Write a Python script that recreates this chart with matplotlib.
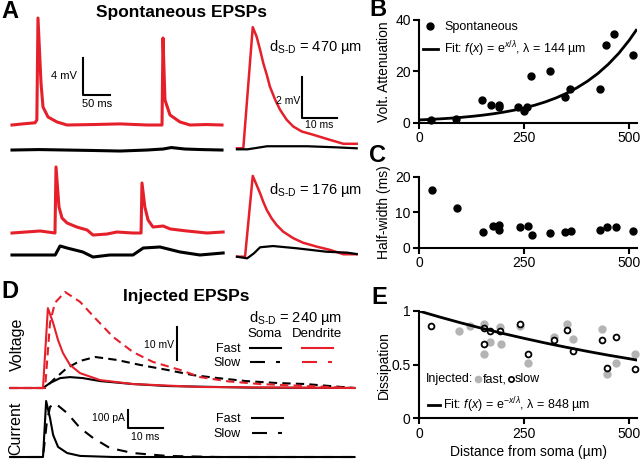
import matplotlib
matplotlib.use('Agg')
import matplotlib.pyplot as plt
from matplotlib.lines import Line2D

plt.rcParams['font.family'] = ['Liberation Sans', 'DejaVu Sans']
plt.rcParams['mathtext.fontset'] = 'custom'
plt.rcParams['mathtext.rm'] = 'Liberation Sans'
plt.rcParams['mathtext.it'] = 'Liberation Sans:italic'

RED = '#e5202a'
GREY = '#b4b4b4'

# --- A : spontaneous EPSPs, long traces (ms, mV from baseline) ---
a470_red_t = [0, 20, 42.6, 46, 48.1, 53.7, 57.4, 66.7, 83.3, 101.9, 150, 200, 250, 277.8,
              279.6, 283.3, 292.6, 311, 329.6, 360, 388.9]
a470_red_v = [0, 0.12, 0.24, 0.54, 11.63, 4.57, 1.96, 0.87, 0.33, 0, 0.05, 0.12, 0, 0,
              9.46, 2.72, 1.09, 0.33, 0, 0.05, 0]
a470_blk_t = [0, 50, 100, 150, 200, 250, 280, 295, 320, 350, 388.9]
a470_blk_v = [0, 0.05, 0, -0.05, -0.11, 0, 0.11, 0.27, 0.11, 0.05, 0]

a176_red_t = [0, 52, 79.6, 81.5, 87, 92.6, 101.9, 120, 139, 150, 176, 194, 224, 239,
              240.7, 246, 252, 261, 280, 293, 324, 361, 391]
a176_red_v = [-0.11, 0.11, -0.11, 7.07, 2.72, 1.52, 0.98, 0.54, 0.22, -0.33, -0.22, 0,
              -0.11, -0.11, 5.33, 2.72, 1.30, 0.54, 0.65, 0.33, 0.11, -0.11, 0]
a176_blk_t = [0, 80, 89, 102, 131, 150, 181, 224, 243, 274, 311, 348, 391]
a176_blk_v = [0, 0, 0.98, 0.76, 0.33, -0.22, 0, 0, 0.76, 0.87, 0.33, 0, 0.22]

# --- A : averaged EPSPs (insets) ---
i470_red_t = [0, 1.8, 4.5, 5.6, 6.6, 7.5, 8.5, 9.4, 10.9, 12.3, 14.2, 16.1, 18.5, 21.8,
              26.6, 30.4, 34.2]
i470_red_v = [0, 0, 5.91, 5.45, 4.80, 4.16, 3.59, 3.01, 2.37, 1.88, 1.39, 1.06, 0.82,
              0.66, 0.41, 0.22, 0.22]
i470_blk_t = [0, 3, 8.6, 20, 28, 34.2]
i470_blk_v = [-0.05, -0.05, 0.1, 0.1, 0.05, 0]

i176_red_t = [0, 2.3, 4.5, 5.6, 6.6, 7.5, 8.5, 9.9, 11.3, 13.2, 16.1, 18.9, 22.8, 26.6,
              30.4, 34.2]
i176_red_v = [0, 0, 3.94, 3.50, 3.09, 2.68, 2.28, 1.87, 1.55, 1.22, 0.90, 0.68, 0.49,
              0.33, 0.12, 0.12]
i176_blk_t = [0, 2.9, 4.8, 6.6, 10.3, 17.1, 25.7, 31.4, 34.2]
i176_blk_v = [0, -0.08, 0.16, 0.46, 0.52, 0.41, 0.24, 0.20, 0.13]

# --- D : injected EPSPs (ms from onset, mV / pA) ---
dend_fast_t = [-9.4, 0, 1.4, 2.9, 4.3, 5.7, 7.7, 10.6, 16.3, 25.7, 44.9, 89]
dend_fast_v = [0, 0, 24.2, 19.7, 14.5, 10.6, 7.0, 4.5, 2.4, 1.2, 0.3, 0]
dend_slow_t = [-9.4, 0.6, 2.0, 3.4, 6.3, 10.6, 15.4, 20, 25.7, 31.4, 39.1, 44.9, 53, 62,
               75, 89]
dend_slow_v = [0, 0, 19.7, 25.8, 29.1, 26.1, 20.6, 15.5, 10.9, 7.9, 5.5, 3.3, 2.0, 1.2,
               0.6, 0]
soma_slow_t = [-9.4, 0.6, 2.9, 6.9, 10.6, 14.9, 21.1, 27.7, 35.4, 42.9, 50, 58, 67, 75, 89]
soma_slow_v = [0, 0, 2.4, 6.1, 8.2, 9.4, 8.5, 7.0, 5.5, 3.9, 3.0, 2.1, 1.5, 1.2, 0]
soma_fast_t = [-9.4, 0, 2.0, 4.9, 7.7, 11.4, 16.3, 25.7, 35.4, 60, 89]
soma_fast_v = [0, 0, 1.5, 3.0, 3.3, 3.0, 2.1, 1.2, 0.6, 0.1, 0]

cur_fast_t = [-9.4, 0, 0.9, 2.0, 2.9, 4.3, 6.9, 10.6, 20, 89]
cur_fast_i = [0, 0, 311, 217, 122, 56, 22, 6, 0, 0]
cur_slow_t = [-9.4, 0, 1.1, 2.0, 3.4, 6.9, 10.6, 14.3, 19.1, 25.7, 35.4, 50, 89]
cur_slow_i = [0, 0, 194, 278, 300, 244, 161, 106, 50, 22, 6, 0, 0]

# --- B, C : spontaneous, per cell ---
sp_dist = [29, 88, 150, 171, 189, 191, 236, 249, 256, 266, 311, 346, 359, 429, 444, 464, 508]
sp_atten = [1.0, 1.3, 8.8, 6.9, 6.8, 6.2, 6.2, 4.3, 6.2, 18.3, 20.2, 10.1, 13.1, 13.1,
            30.4, 34.6, 26.5]
hw_dist = [32, 90, 153, 176, 189, 191, 239, 259, 268, 311, 346, 360, 430, 447, 467, 508]
hw_ms = [16.3, 11.3, 4.4, 6.2, 6.5, 5.1, 5.9, 6.1, 3.6, 4.1, 4.4, 4.7, 5.0, 5.9, 5.9, 4.7]
fitB_x = [0, 25, 50, 75, 100, 125, 150, 175, 200, 225, 250, 275, 300, 325, 350, 375, 400,
          425, 450, 475, 500, 516]
fitB_y = [1.00, 1.19, 1.42, 1.68, 2.00, 2.38, 2.83, 3.37, 4.01, 4.77, 5.68, 6.75, 8.03,
          9.55, 11.37, 13.52, 16.08, 19.13, 22.76, 27.07, 32.21, 35.99]

# --- E : dissipation ---
fast_dist = [94, 122, 155, 155, 169, 193, 196, 241, 260, 321, 351, 366, 434, 447, 469, 514]
fast_diss = [0.81, 0.86, 0.88, 0.60, 0.71, 0.85, 0.69, 0.86, 0.52, 0.76, 0.88, 0.74,
             0.83, 0.41, 0.52, 0.60]
slow_dist = [29, 155, 155, 169, 193, 241, 260, 321, 351, 366, 434, 447, 469, 514]
slow_diss = [0.86, 0.84, 0.69, 0.81, 0.81, 0.88, 0.60, 0.73, 0.82, 0.63, 0.73, 0.47,
             0.76, 0.46]
fitE_x = [0, 50, 100, 150, 200, 250, 300, 350, 400, 450, 500, 516]
fitE_y = [1.0, 0.943, 0.889, 0.838, 0.790, 0.745, 0.702, 0.662, 0.624, 0.588, 0.555, 0.544]

W, H = 640, 459
fig = plt.figure(figsize=(W / 100, H / 100), dpi=100)
fig.patch.set_facecolor('white')


def px_axes(x0, y0, x1, y1):
    return fig.add_axes([x0 / W, 1 - y1 / H, (x1 - x0) / W, (y1 - y0) / H])


def trace_axes(box, origin, sx, sy):
    # box in pixels, origin = pixel of (t=0, v=0), sx/sy = px per unit
    x0, y0, x1, y1 = box
    xo, yo = origin
    ax = px_axes(x0, y0, x1, y1)
    ax.set_xlim((x0 - xo) / sx, (x1 - xo) / sx)
    ax.set_ylim((yo - y1) / sy, (yo - y0) / sy)
    ax.axis('off')
    return ax


def ftext(x, y, s, **kw):
    kw.setdefault('va', 'center')
    fig.text(x / W, 1 - y / H, s, **kw)


def fline(x0, x1, y, **kw):
    fig.add_artist(Line2D([x0 / W, x1 / W], [1 - y / H, 1 - y / H], **kw))


# ---------------- A ----------------
ftext(1, 11, 'A', fontsize=17, fontweight='bold', ha='left')
ftext(182, 13, 'Spontaneous EPSPs', fontsize=12.5, fontweight='bold', ha='center')

ax = trace_axes((5, 10, 230, 162), (12, 125), 0.54, 9.2)
ax.plot(a470_red_t, a470_red_v, color=RED, lw=2.2)
ax.plot(a470_blk_t, [v - 2.72 for v in a470_blk_v], color='black', lw=2.2)
ax.plot([131.5, 131.5, 181.5], [7.26, 3.26, 3.26], color='black', lw=1.5)
ax.text(120, 5.3, '4 mV', fontsize=8, ha='right', va='center')
ax.text(157, 2.8, '50 ms', fontsize=8, ha='center', va='top')

ax = trace_axes((5, 162, 230, 265), (12, 232), 0.54, 9.2)
ax.plot(a176_red_t, a176_red_v, color=RED, lw=2.2)
ax.plot(a176_blk_t, [v - 2.5 for v in a176_blk_v], color='black', lw=2.2)

ax = trace_axes((232, 18, 362, 158), (237, 148.3), 3.5, 20.5)
ax.plot(i470_red_t, i470_red_v, color=RED, lw=1.8)
ax.plot(i470_blk_t, i470_blk_v, color='black', lw=1.6)
ax.plot([18.6, 18.6, 28.6], [3.49, 1.49, 1.49], color='black', lw=1.5)
ax.text(18.2, 2.3, '2 mV', fontsize=7.5, ha='right', va='center')
ax.text(23.6, 1.4, '10 ms', fontsize=7.5, ha='center', va='top')
ax.text(22.5, 4.95, r'd$_{\mathrm{S\text{-}D}}$ = 470 µm', fontsize=10.5, ha='center',
        va='center')

ax = trace_axes((232, 160, 362, 265), (237, 256.7), 3.5, 20.5)
ax.plot(i176_red_t, i176_red_v, color=RED, lw=1.8)
ax.plot(i176_blk_t, i176_blk_v, color='black', lw=1.6)
ax.text(22.5, 3.25, r'd$_{\mathrm{S\text{-}D}}$ = 176 µm', fontsize=10.5, ha='center',
        va='center')

# ---------------- D ----------------
ftext(1, 292, 'D', fontsize=17, fontweight='bold', ha='left')
ftext(186, 296, 'Injected EPSPs', fontsize=12.5, fontweight='bold', ha='center')
ftext(17, 344, 'Voltage', fontsize=11.5, rotation=90, ha='center')
ftext(16, 428, 'Current', fontsize=11.5, rotation=90, ha='center')

ax = trace_axes((5, 285, 360, 392), (43, 388), 3.5, 3.3)
ax.plot(soma_fast_t, soma_fast_v, color='black', lw=1.5)
ax.plot(soma_slow_t, soma_slow_v, color='black', lw=1.5, dashes=(4, 2.5))
ax.plot(dend_fast_t, dend_fast_v, color=RED, lw=1.5)
ax.plot(dend_slow_t, dend_slow_v, color=RED, lw=1.5, dashes=(4, 2.5))
ax.plot([38.3, 38.3], [8.5, 18.5], color='black', lw=1.5)
ax.text(37.3, 13, '10 mV', fontsize=7.5, ha='right', va='center')

ax = trace_axes((5, 392, 360, 459), (43, 457), 3.5, 0.18)
ax.plot(cur_fast_t, cur_fast_i, color='black', lw=1.5)
ax.plot(cur_slow_t, cur_slow_i, color='black', lw=1.5, dashes=(5, 4))
ax.plot([24.3, 24.3, 34.3], [261, 161, 161], color='black', lw=1.5)
ax.text(23.5, 217, '100 pA', fontsize=7.5, ha='right', va='center')
ax.text(29.3, 140, '10 ms', fontsize=7.5, ha='center', va='top')

ftext(296, 318, r'd$_{\mathrm{S\text{-}D}}$ = 240 µm', fontsize=10.5, ha='center')
ftext(265, 334, 'Soma', fontsize=9.5, ha='center')
ftext(317, 334, 'Dendrite', fontsize=9.5, ha='center')
ftext(241, 349, 'Fast', fontsize=9, ha='right')
ftext(241, 363, 'Slow', fontsize=9, ha='right')
fline(250, 281, 348, color='black', lw=1.5)
fline(250, 281, 362, color='black', lw=1.5, dashes=(7.2, 5.3, 1.9, 5))
fline(302, 333, 348, color=RED, lw=1.5)
fline(302, 333, 362, color=RED, lw=1.5, dashes=(7.2, 5.3, 1.9, 5))
ftext(241, 419, 'Fast', fontsize=9, ha='right')
ftext(241, 434, 'Slow', fontsize=9, ha='right')
fline(252, 283, 418, color='black', lw=1.5)
fline(252, 283, 433, color='black', lw=1.5, dashes=(7.2, 5.3, 1.9, 5))


# ---------------- B, C, E ----------------
def scatter_axes(box, ylim, yticks, yticklabels, ylabel):
    a = px_axes(*box)
    a.set_xlim(0, 518)
    a.set_ylim(*ylim)
    for s in ['top', 'right']:
        a.spines[s].set_visible(False)
    for s in ['left', 'bottom']:
        a.spines[s].set_linewidth(1.5)
    a.set_xticks([0, 250, 500])
    a.set_yticks(yticks)
    a.set_yticklabels(yticklabels)
    a.tick_params(direction='out', length=4, width=1.5, labelsize=10, pad=2)
    a.set_ylabel(ylabel, fontsize=10)
    a.yaxis.set_label_coords(-28 / 218, 0.5)
    return a


ftext(378, 10, 'B', fontsize=17, fontweight='bold', ha='center')
ax = scatter_axes((419, 20, 637, 122.5), (0, 40), [0, 20, 40], ['0', '20', '40'],
                  'Volt. Attenuation')
ax.plot(sp_dist, sp_atten, 'o', color='black', ms=5, clip_on=False, label='Spontaneous')
ax.plot(fitB_x, fitB_y, color='black', lw=2,
        label=r'Fit: $f(x)$ = e$^{x/\lambda}$, λ = 144 µm')
ax.legend(loc='upper left', bbox_to_anchor=(0.018, 0.99), frameon=False, fontsize=9,
          handlelength=1.2, handletextpad=0.5, borderpad=0, borderaxespad=0,
          labelspacing=0.55)

ftext(378, 155, 'C', fontsize=17, fontweight='bold', ha='center')
ax = scatter_axes((419, 177, 637, 247.5), (0, 20), [0, 10, 20], ['0', '10', '20'],
                  'Half-width (ms)')
ax.plot(hw_dist, hw_ms, 'o', color='black', ms=5, clip_on=False)

ftext(379, 298, 'E', fontsize=17, fontweight='bold', ha='center')
ax = scatter_axes((419, 311, 637, 418.3), (0, 1), [0, 0.5, 1], ['0', '0.5', '1'],
                  'Dissipation')
ax.plot(fast_dist, fast_diss, 'o', color=GREY, ms=5, mec=GREY, clip_on=False)
ax.plot(slow_dist, slow_diss, 'o', mfc='white', mec='black', mew=1.3, ms=4.2,
        clip_on=False)
ax.plot(fitE_x, fitE_y, color='black', lw=2)
ax.set_xlabel('Distance from soma (µm)', fontsize=10)
ax.xaxis.set_label_coords(0.5, -0.25)
tr = ax.transAxes
ax.text(0.03, 0.365, 'Injected:', fontsize=9, transform=tr, va='center')
ax.plot([0.27], [0.365], 'o', color=GREY, ms=4.5, transform=tr, clip_on=False)
ax.text(0.292, 0.365, 'fast,', fontsize=9, transform=tr, va='center')
ax.plot([0.42], [0.365], 'o', mfc='white', mec='black', mew=1.2, ms=3.8, transform=tr,
        clip_on=False)
ax.text(0.44, 0.365, 'slow', fontsize=9, transform=tr, va='center')
ax.plot([0.04, 0.097], [0.124, 0.124], color='black', lw=2, transform=tr)
ax.text(0.11, 0.124, r'Fit: $f(x)$ = e$^{-x/\lambda}$, λ = 848 µm', fontsize=9,
        transform=tr, va='center')

fig.savefig('out.png', dpi=100)
